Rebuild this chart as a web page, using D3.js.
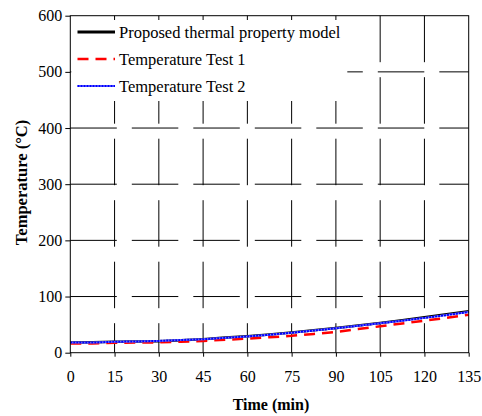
<!DOCTYPE html>
<html><head><meta charset="utf-8">
<script src="https://cdn.jsdelivr.net/npm/d3@7"></script>
<style>body{margin:0;background:#fff}svg{display:block}text{font-family:"Liberation Serif","Times New Roman",serif}</style>
</head><body><svg id="c" width="482" height="416"></svg>
<script>
const time = [0,7.5,15,22.5,30,37.5,45,52.5,60,67.5,75,82.5,90,97.5,105,112.5,120,127.5,135];
const model = [18,18.5,19.5,20,20.5,22,24,27,29.5,32.5,36,40,44,48.5,53,58,63,68.5,74];
const test1 = [16.5,16.5,17.5,18,18.5,19.5,21,23,25,27.5,30,33.5,37,42,47,52,57,62,67.5];
const test2 = [18,18,19.5,20,21,22.5,24,26.5,29,32,35.5,39.5,43.5,48,52.5,57,62,67,72.5];
const xTicks = [0,15,30,45,60,75,90,105,120,135];
const yTicks = [0,100,200,300,400,500,600];
const seriesNames = ["Proposed thermal property model","Temperature Test 1","Temperature Test 2"];

const svg = d3.select("#c");
const L=70.3, R=468.7, T=15.7, B=352.7;
const x = d3.scaleLinear().domain([0,135]).range([L,R]);
const y = d3.scaleLinear().domain([0,600]).range([B,T]);

// gridlines (long dashed)
const g = svg.append("g");
g.selectAll(".hg").data(yTicks.filter(v=>v>0&&v<600)).join("line")
  .attr("x1",L).attr("x2",R).attr("y1",d=>y(d)).attr("y2",d=>y(d))
  .attr("stroke","#000").attr("stroke-width",1).attr("stroke-dasharray","46.5,15");
g.selectAll(".vg").data(xTicks.filter(v=>v>0&&v<135)).join("line")
  .attr("x1",d=>x(d)).attr("x2",d=>x(d)).attr("y1",T).attr("y2",B)
  .attr("stroke","#000").attr("stroke-width",1).attr("stroke-dasharray","46.5,15");

// series
const line = d3.line().x((d,i)=>x(time[i])).y(d=>y(d));
svg.append("path").datum(model).attr("d",line).attr("fill","none").attr("stroke","#000").attr("stroke-width",2.5);
svg.append("path").datum(test1).attr("d",line).attr("fill","none").attr("stroke","#ff0000").attr("stroke-width",2.5).attr("stroke-dasharray","11,7");
svg.append("path").datum(test2).attr("d",line).attr("fill","none").attr("stroke","#8080ff").attr("stroke-width",2);
svg.append("path").datum(test2).attr("d",line).attr("fill","none").attr("stroke","#0000ff").attr("stroke-width",2).attr("stroke-dasharray","2,1");

// frame
svg.append("rect").attr("x",L).attr("y",T).attr("width",R-L).attr("height",B-T).attr("fill","none").attr("stroke","#000").attr("stroke-width",1);

// axes
const ya = svg.append("g").attr("transform",`translate(${L},0)`)
  .call(d3.axisLeft(y).tickValues(yTicks).tickSize(5).tickPadding(3).tickFormat(d3.format("d")));
const xa = svg.append("g").attr("transform",`translate(0,${B})`)
  .call(d3.axisBottom(x).tickValues(xTicks).tickSize(4).tickPadding(14).tickFormat(d3.format("d")));
[ya,xa].forEach(a=>{a.select(".domain").remove();a.selectAll("text").attr("font-size",16).attr("fill","#000");a.selectAll("line").attr("stroke","#000");});

// titles
svg.append("text").attr("x",271).attr("y",410).attr("text-anchor","middle").attr("font-weight","bold").attr("font-size",16).text("Time (min)");
svg.append("text").attr("transform",`translate(27,182.5) rotate(-90)`).attr("text-anchor","middle").attr("font-weight","bold").attr("font-size",16.5).text("Temperature (°C)");

// legend
const lg = svg.append("g");
lg.append("rect").attr("x",L+1).attr("y",20).attr("width",276).attr("height",81).attr("fill","#fff");
const rowY = [32,59,86];
const styles = [
  {stroke:"#000",w:3,dash:null},
  {stroke:"#ff0000",w:2.5,dash:"11,7"},
  {stroke:"#0000ff",w:2,dash:"2,1"}
];
seriesNames.forEach((n,i)=>{
  if(i===2) lg.append("line").attr("x1",77.5).attr("x2",115).attr("y1",rowY[i]).attr("y2",rowY[i]).attr("stroke","#8080ff").attr("stroke-width",2);
  lg.append("line").attr("x1",77.5).attr("x2",115).attr("y1",rowY[i]).attr("y2",rowY[i])
    .attr("stroke",styles[i].stroke).attr("stroke-width",styles[i].w).attr("stroke-dasharray",styles[i].dash);
  lg.append("text").attr("x",119).attr("y",rowY[i]+5.5).attr("font-size",16.5).text(n);
});
</script></body></html>
